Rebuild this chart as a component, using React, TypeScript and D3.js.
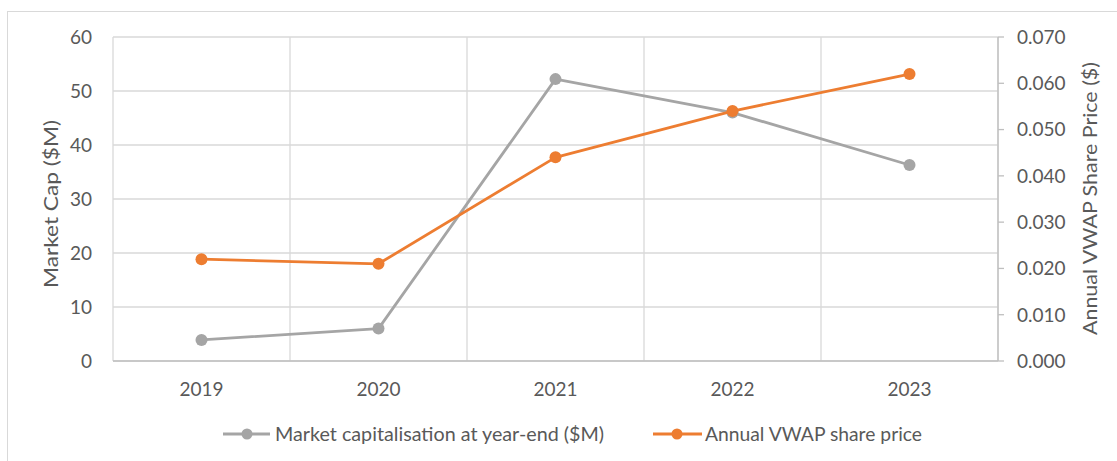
import React from "react";
import * as d3 from "d3";

const years = ["2019", "2020", "2021", "2022", "2023"];
const marketCap = [3.9, 6.0, 52.2, 46.0, 36.3];
const vwap = [0.022, 0.021, 0.044, 0.054, 0.062];
const leftTicks = [0, 10, 20, 30, 40, 50, 60];
const rightTicks = [0, 0.01, 0.02, 0.03, 0.04, 0.05, 0.06, 0.07];
const seriesNames = ["Market capitalisation at year-end ($M)", "Annual VWAP share price"];
const leftTitle = "Market Cap ($M)";
const rightTitle = "Annual VWAP Share Price ($)";

const W = 1117;
const H = 461;
const L = 113, R = 998, T = 37, B = 361;
const GRAY = "#A5A5A5";
const ORANGE = "#ED7D31";
const TEXT = "#595959";
const FONT = "Lato, 'Open Sans', sans-serif";

export default function App() {
  const x = d3.scaleBand<string>().domain(years).range([L, R]).padding(0);
  const yL = d3.scaleLinear().domain([0, 60]).range([B, T]);
  const yR = d3.scaleLinear().domain([0, 0.07]).range([B, T]);
  const cx = (d: string) => (x(d) as number) + x.bandwidth() / 2;

  const lineL = d3.line<number>().x((_, i) => cx(years[i])).y((d) => yL(d));
  const lineR = d3.line<number>().x((_, i) => cx(years[i])).y((d) => yR(d));
  const bounds = [...years.map((d) => x(d) as number), R];

  return (
    <svg width={W} height={H} style={{ position: "absolute", left: 0, top: 0 }} fontFamily={FONT}>
      <rect x={0} y={0} width={W} height={H} fill="#fff" />
      <rect x={7.5} y={11.5} width={W + 10} height={H + 10} fill="none" stroke="#D9D9D9" strokeWidth={1} />
      {leftTicks.map((t) => (
        <line key={"h" + t} x1={L} x2={R} y1={yL(t)} y2={yL(t)} stroke="#D9D9D9" strokeWidth={1.3} />
      ))}
      {bounds.map((b, i) => (
        <line key={"v" + i} x1={b} x2={b} y1={T} y2={B} stroke="#D9D9D9" strokeWidth={1.3} />
      ))}
      <line x1={L} x2={R} y1={B} y2={B} stroke="#BFBFBF" strokeWidth={1.3} />
      <line x1={R} x2={R} y1={T} y2={B} stroke="#BFBFBF" strokeWidth={1.3} />
      {rightTicks.map((t, i) => (
        <line key={"rt" + i} x1={R} x2={R + 6} y1={yR(t)} y2={yR(t)} stroke="#BFBFBF" strokeWidth={1.3} />
      ))}
      {leftTicks.map((t) => (
        <text key={"lt" + t} x={92} y={yL(t)} dy="0.36em" textAnchor="end" fontSize={19} fill={TEXT}>
          {t}
        </text>
      ))}
      {rightTicks.map((t, i) => (
        <text key={"rl" + i} x={1017} y={yR(t)} dy="0.36em" textAnchor="start" fontSize={19} fill={TEXT}>
          {t.toFixed(3)}
        </text>
      ))}
      {years.map((d) => (
        <text key={"x" + d} x={cx(d)} y={396} textAnchor="middle" fontSize={19} fill={TEXT}>
          {d}
        </text>
      ))}
      <text transform={`translate(58,204) rotate(-90)`} textAnchor="middle" fontSize={19} fill={TEXT}
        textLength={168} lengthAdjust="spacingAndGlyphs">
        {leftTitle}
      </text>
      <text transform={`translate(1097,198.5) rotate(-90)`} textAnchor="middle" fontSize={19} fill={TEXT}
        textLength={273} lengthAdjust="spacingAndGlyphs">
        {rightTitle}
      </text>
      <path d={lineL(marketCap) || ""} fill="none" stroke={GRAY} strokeWidth={2.8} strokeLinejoin="round" />
      {marketCap.map((v, i) => (
        <circle key={"mc" + i} cx={cx(years[i])} cy={yL(v)} r={6} fill={GRAY} />
      ))}
      <path d={lineR(vwap) || ""} fill="none" stroke={ORANGE} strokeWidth={2.8} strokeLinejoin="round" />
      {vwap.map((v, i) => (
        <circle key={"vw" + i} cx={cx(years[i])} cy={yR(v)} r={6} fill={ORANGE} />
      ))}
      <g>
        <line x1={223} x2={270} y1={434} y2={434} stroke={GRAY} strokeWidth={2.8} />
        <circle cx={247} cy={434} r={5.5} fill={GRAY} />
        <text x={275} y={441} fontSize={19} fill={TEXT} textLength={329} lengthAdjust="spacingAndGlyphs">
          {seriesNames[0]}
        </text>
        <line x1={653} x2={702} y1={434} y2={434} stroke={ORANGE} strokeWidth={2.8} />
        <circle cx={677} cy={434} r={5.5} fill={ORANGE} />
        <text x={705} y={441} fontSize={19} fill={TEXT} textLength={217} lengthAdjust="spacingAndGlyphs">
          {seriesNames[1]}
        </text>
      </g>
    </svg>
  );
}
